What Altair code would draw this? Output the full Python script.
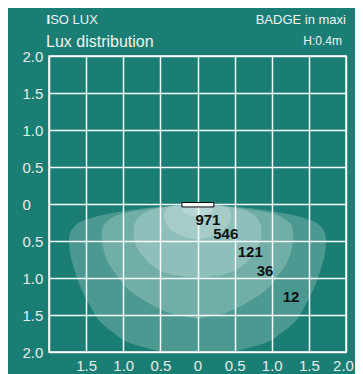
import altair as alt
import pandas as pd

# ---- data ----
ticks = [-2.0, -1.5, -1.0, -0.5, 0.0, 0.5, 1.0, 1.5, 2.0]

# isolux contours: vertical level (m) and half width (m), outermost first
c12_y  = [-0.02, -0.06, -0.13, -0.20, -0.33, -0.47, -0.65, -0.85, -1.06, -1.37, -1.60, -1.75, -1.87, -1.98, -2.10]
c12_hw = [0.30, 0.75, 1.18, 1.47, 1.68, 1.73, 1.72, 1.67, 1.60, 1.45, 1.30, 1.12, 0.93, 0.55, 0.0]
c36_y  = [-0.02, -0.06, -0.11, -0.22, -0.33, -0.45, -0.60, -0.80, -1.00, -1.12, -1.30, -1.42, -1.50, -1.55]
c36_hw = [0.30, 0.62, 0.93, 1.20, 1.28, 1.29, 1.27, 1.20, 1.06, 0.97, 0.72, 0.50, 0.28, 0.0]
c121_y  = [-0.02, -0.06, -0.13, -0.22, -0.32, -0.45, -0.58, -0.70, -0.80, -0.90, -0.96, -1.00]
c121_hw = [0.30, 0.55, 0.73, 0.82, 0.86, 0.86, 0.82, 0.74, 0.65, 0.50, 0.33, 0.0]
c546_y  = [-0.02, -0.05, -0.10, -0.17, -0.25, -0.33, -0.40, -0.45, -0.48]
c546_hw = [0.30, 0.40, 0.44, 0.45, 0.43, 0.37, 0.28, 0.16, 0.0]
c971_y  = [-0.03, -0.07, -0.11, -0.15, -0.18]
c971_hw = [0.20, 0.21, 0.19, 0.13, 0.0]

lux_values = ["971", "546", "121", "36", "12"]
lux_x = [0.14, 0.38, 0.71, 0.91, 1.26]
lux_y = [-0.21, -0.40, -0.65, -0.90, -1.25]

lamp_x = [-0.21, 0.22]
lamp_y = [0.02, -0.04]

BG = "#1b7e74"
LABEL = "#e4eeec"
FONT = "Liberation Sans"

xs = alt.Scale(domain=[-2, 2], nice=False, zero=False)
ys = alt.Scale(domain=[-2, 2], nice=False, zero=False)

lab_expr_x = "datum.value == -2 ? '' : (datum.value == 0 ? '0' : format(abs(datum.value), '.1f'))"
lab_expr_y = "datum.value == 0 ? '0' : format(abs(datum.value), '.1f')"

x_axis = alt.Axis(values=ticks, labelExpr=lab_expr_x, title=None, labelOverlap=False,
                  labelPadding=6, labelAlign="center", labelFlush=False,
                  labelOffset={"condition": {"test": "datum.value == 2", "value": -3}, "value": 0})
y_axis = alt.Axis(values=ticks, labelExpr=lab_expr_y, title=None, labelOverlap=False,
                  labelAlign="left", labelPadding=27, labelBaseline="middle")

contours = [(c12_y, c12_hw), (c36_y, c36_hw), (c121_y, c121_hw), (c546_y, c546_hw), (c971_y, c971_hw)]

layers = []
for i, (cy, chw) in enumerate(contours):
    df = pd.DataFrame({"y": cy, "hw": chw})
    df["xl"] = -df["hw"]
    layers.append(
        alt.Chart(df).mark_area(orient="horizontal", interpolate="monotone",
                                color="white", opacity=0.21, clip=True).encode(
            y=alt.Y("y:Q", scale=ys, axis=y_axis),
            x=alt.X("xl:Q", scale=xs, axis=x_axis),
            x2="hw:Q",
        )
    )

lamp_df = pd.DataFrame({"x": [lamp_x[0]], "x2": [lamp_x[1]], "y": [lamp_y[0]], "y2": [lamp_y[1]]})
lamp = alt.Chart(lamp_df).mark_rect(fill="white", stroke="black", strokeWidth=1).encode(
    x=alt.X("x:Q", scale=xs, axis=x_axis), x2="x2:Q",
    y=alt.Y("y:Q", scale=ys, axis=y_axis), y2="y2:Q")

lux_df = pd.DataFrame({"t": lux_values, "x": lux_x, "y": lux_y})
lux = alt.Chart(lux_df).mark_text(font=FONT, fontSize=15, fontWeight="bold", color="#111111").encode(
    x=alt.X("x:Q", scale=xs, axis=x_axis), y=alt.Y("y:Q", scale=ys, axis=y_axis), text="t:N")

hdr = pd.DataFrame({"a": [0]})
def htext(txt, x, y, size, align, weight="normal", color="#eef4f3"):
    return alt.Chart(hdr).mark_text(text=txt, font=FONT, fontSize=size, align=align, baseline="alphabetic",
                                    fontWeight=weight, color=color).encode(x=alt.value(x), y=alt.value(y))

headers = [
    htext("I", -2.5, -32.5, 13, "left", "bold", "#ffffff"),
    htext("SO LUX", 1.2, -32.5, 13, "left"),
    htext("BADGE in maxi", 297, -32.5, 13, "right"),
    htext("Lux distribution", -3, -9.5, 16, "left"),
    htext("H:0.4m", 293, -11, 12, "right"),
]

chart = alt.layer(*layers, lamp, lux, *headers).properties(
    width=297, height=296,
    padding={"left": 41, "top": 48, "right": 9, "bottom": 22},
    autosize=alt.AutoSizeParams(type="none"),
    background=BG,
).configure_view(stroke="white", strokeWidth=1.5).configure_axis(
    grid=True, gridColor="white", gridWidth=1.5, gridOpacity=0.95,
    domain=False, ticks=False, labelFont=FONT, labelFontSize=15, labelColor=LABEL,
)

chart.save("out.html", embed_options={"renderer": "svg", "actions": False})
